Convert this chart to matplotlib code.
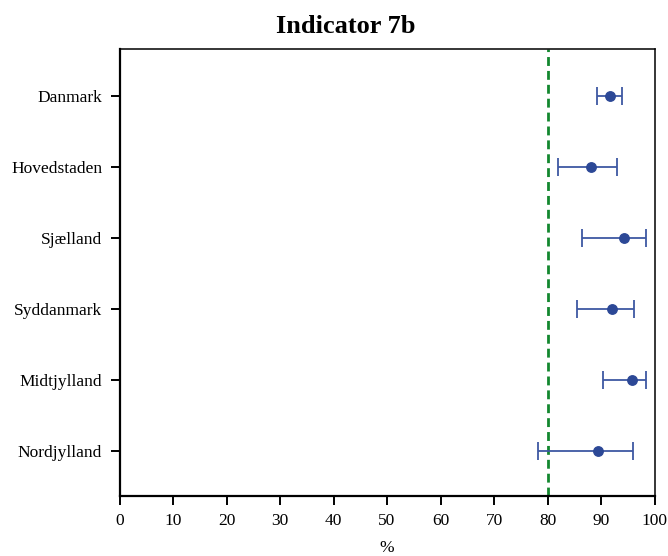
import matplotlib
matplotlib.use("Agg")
import matplotlib.pyplot as plt

regions = ["Danmark", "Hovedstaden", "Sjælland", "Syddanmark", "Midtjylland", "Nordjylland"]
estimate = [91.7, 88.1, 94.3, 92.0, 95.7, 89.4]
lower = [89.2, 81.9, 86.4, 85.6, 90.3, 78.3]
upper = [94.0, 92.9, 98.5, 96.2, 98.5, 95.9]
target = 80
xticks = [0, 10, 20, 30, 40, 50, 60, 70, 80, 90, 100]
title = "Indicator 7b"
xlabel = "%"

plt.rcParams['font.family'] = ['Liberation Serif', 'DejaVu Serif']

fig = plt.figure(figsize=(6.68, 5.56), dpi=100)
ax = fig.add_axes([0.1789, 0.1079, 0.9798 - 0.1789, 0.9119 - 0.1079])

n = len(regions)
ypos = [n - i for i in range(n)]
xerr = [[e - l for e, l in zip(estimate, lower)], [u - e for e, u in zip(estimate, upper)]]

ax.axvline(target, color="#13872f", linewidth=2.0, linestyle=(0, (3.2, 1.8)), zorder=1)
ax.errorbar(estimate, ypos, xerr=xerr, fmt="o", color="#2c4896", ecolor="#3e58a3",
            elinewidth=1.3, capsize=6.5, capthick=1.3, markersize=6.8, zorder=3)

ax.set_xlim(0, 100)
ax.set_ylim(0.36, 6.67)
ax.set_xticks(xticks)
ax.set_xticklabels([str(t) for t in xticks])
ax.set_yticks(ypos)
ax.set_yticklabels(regions)
ax.tick_params(axis="both", labelsize=12.5, length=6.5, width=1.4, color="black", pad=6)
ax.set_xlabel(xlabel, fontsize=12.5, labelpad=8)

for side in ["left", "bottom"]:
    ax.spines[side].set_linewidth(1.6)
for side in ["top", "right"]:
    ax.spines[side].set_linewidth(1.1)

fig.text(0.518, 1 - 33 / 556, title, ha="center", va="baseline", fontsize=19, fontweight="bold")

fig.savefig("out.png", dpi=100)
